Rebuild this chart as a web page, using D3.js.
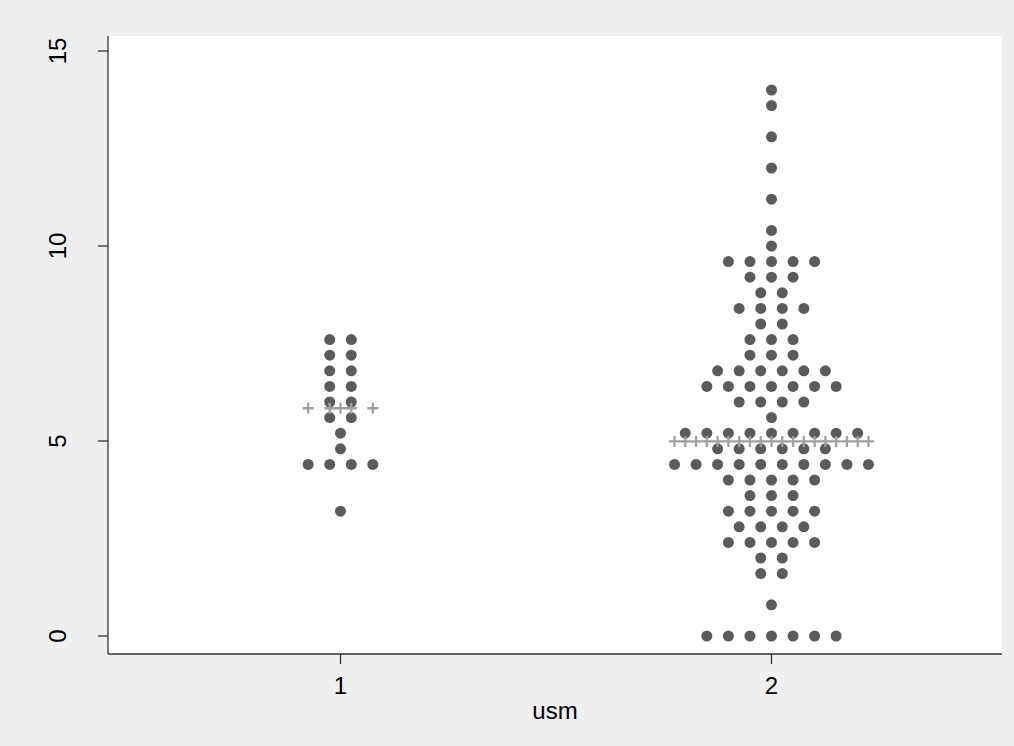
<!DOCTYPE html>
<html>
<head>
<meta charset="utf-8">
<script src="https://cdn.jsdelivr.net/npm/d3@7"></script>
<style>
  html, body { margin: 0; padding: 0; background: #efefef; }
  svg { display: block; font-family: "Liberation Sans", Arial, sans-serif; }
</style>
</head>
<body>
<svg id="chart" width="1014" height="746"></svg>
<script>
// Group codes on the x axis
const groups = [1, 2];

// Binned usm values (row levels) and how many observations fall in each row
const levels1 = [7.6, 7.2, 6.8, 6.4, 6.0, 5.6, 5.2, 4.8, 4.4, 3.2];
const counts1 = [2, 2, 2, 2, 2, 2, 1, 1, 4, 1];

const levels2 = [14.0, 13.6, 12.8, 12.0, 11.2, 10.4, 10.0, 9.6, 9.2, 8.8, 8.4, 8.0, 7.6, 7.2,
                 6.8, 6.4, 6.0, 5.6, 5.2, 4.8, 4.4, 4.0, 3.6, 3.2, 2.8, 2.4, 2.0, 1.6, 0.8, 0.0];
const counts2 = [1, 1, 1, 1, 1, 1, 1, 5, 3, 2, 4, 2, 3, 3,
                 6, 7, 4, 1, 9, 6, 10, 5, 3, 5, 4, 5, 2, 2, 1, 7];

// Group means
const means = [5.84, 4.99];

const yTicks = [0, 5, 10, 15];
const xLabel = "usm";

const svg = d3.select("#chart");
const W = 1014, H = 746;

// plot region
const box = { left: 108, right: 1002, top: 36, bottom: 654 };

const x = d3.scaleLinear().domain([1, 2]).range([340.5, 771.5]);
const y = d3.scaleLinear().domain([0, 15]).range([636, 51]);

const dotStep = 0.05;   // horizontal spacing between dots, in x units
const dotR = 5.5;

svg.append("rect").attr("width", W).attr("height", H).attr("fill", "#efefef");
svg.append("rect")
  .attr("x", box.left).attr("y", box.top)
  .attr("width", box.right - box.left).attr("height", box.bottom - box.top)
  .attr("fill", "#ffffff");

const series = [
  { g: groups[0], levels: levels1, counts: counts1, mean: means[0] },
  { g: groups[1], levels: levels2, counts: counts2, mean: means[1] }
];

// expand rows into centred dots
series.forEach(s => {
  s.dots = [];
  s.offsets = new Set();
  s.levels.forEach((v, i) => {
    const n = s.counts[i];
    for (let k = 0; k < n; k++) {
      const off = k - (n - 1) / 2;
      s.dots.push({ gx: s.g + off * dotStep, v });
      s.offsets.add(off);
    }
  });
});

const plot = svg.append("g");

series.forEach(s => {
  plot.selectAll(null)
    .data(s.dots)
    .enter().append("circle")
    .attr("cx", d => x(d.gx))
    .attr("cy", d => y(d.v))
    .attr("r", dotR)
    .attr("fill", "#5b5b5b");
});

// mean: a row of pluses at every dot column used in the group
const plusHalf = 5.5;
series.forEach(s => {
  const offs = Array.from(s.offsets).sort((a, b) => a - b);
  const gP = plot.append("g").attr("stroke", "#a0a0a0").attr("stroke-width", 2.3).attr("fill", "none");
  offs.forEach(o => {
    const cx = x(s.g + o * dotStep), cy = y(s.mean);
    gP.append("path")
      .attr("d", `M${cx - plusHalf},${cy}H${cx + plusHalf}M${cx},${cy - plusHalf}V${cy + plusHalf}`);
  });
});

// y axis
const yAxis = svg.append("g").attr("transform", `translate(${box.left},0)`);
yAxis.append("line").attr("x1", 0).attr("x2", 0).attr("y1", box.top).attr("y2", box.bottom)
  .attr("stroke", "#333").attr("stroke-width", 1.3);
yTicks.forEach(t => {
  yAxis.append("line").attr("x1", -10).attr("x2", 0).attr("y1", y(t)).attr("y2", y(t))
    .attr("stroke", "#333").attr("stroke-width", 1.3);
  yAxis.append("text")
    .attr("transform", `translate(${-42},${y(t)}) rotate(-90)`)
    .attr("text-anchor", "middle")
    .attr("font-size", 24)
    .attr("fill", "#000")
    .text(t);
});

// x axis
const xAxis = svg.append("g").attr("transform", `translate(0,${box.bottom})`);
xAxis.append("line").attr("x1", box.left).attr("x2", box.right).attr("y1", 0).attr("y2", 0)
  .attr("stroke", "#333").attr("stroke-width", 1.3);
groups.forEach(g => {
  xAxis.append("line").attr("x1", x(g)).attr("x2", x(g)).attr("y1", 0).attr("y2", 10)
    .attr("stroke", "#333").attr("stroke-width", 1.3);
  xAxis.append("text")
    .attr("x", x(g)).attr("y", 40)
    .attr("text-anchor", "middle")
    .attr("font-size", 24)
    .attr("fill", "#000")
    .text(g);
});

svg.append("text")
  .attr("x", (box.left + box.right) / 2).attr("y", 719)
  .attr("text-anchor", "middle")
  .attr("font-size", 24)
  .attr("fill", "#000")
  .text(xLabel);
</script>
</body>
</html>
